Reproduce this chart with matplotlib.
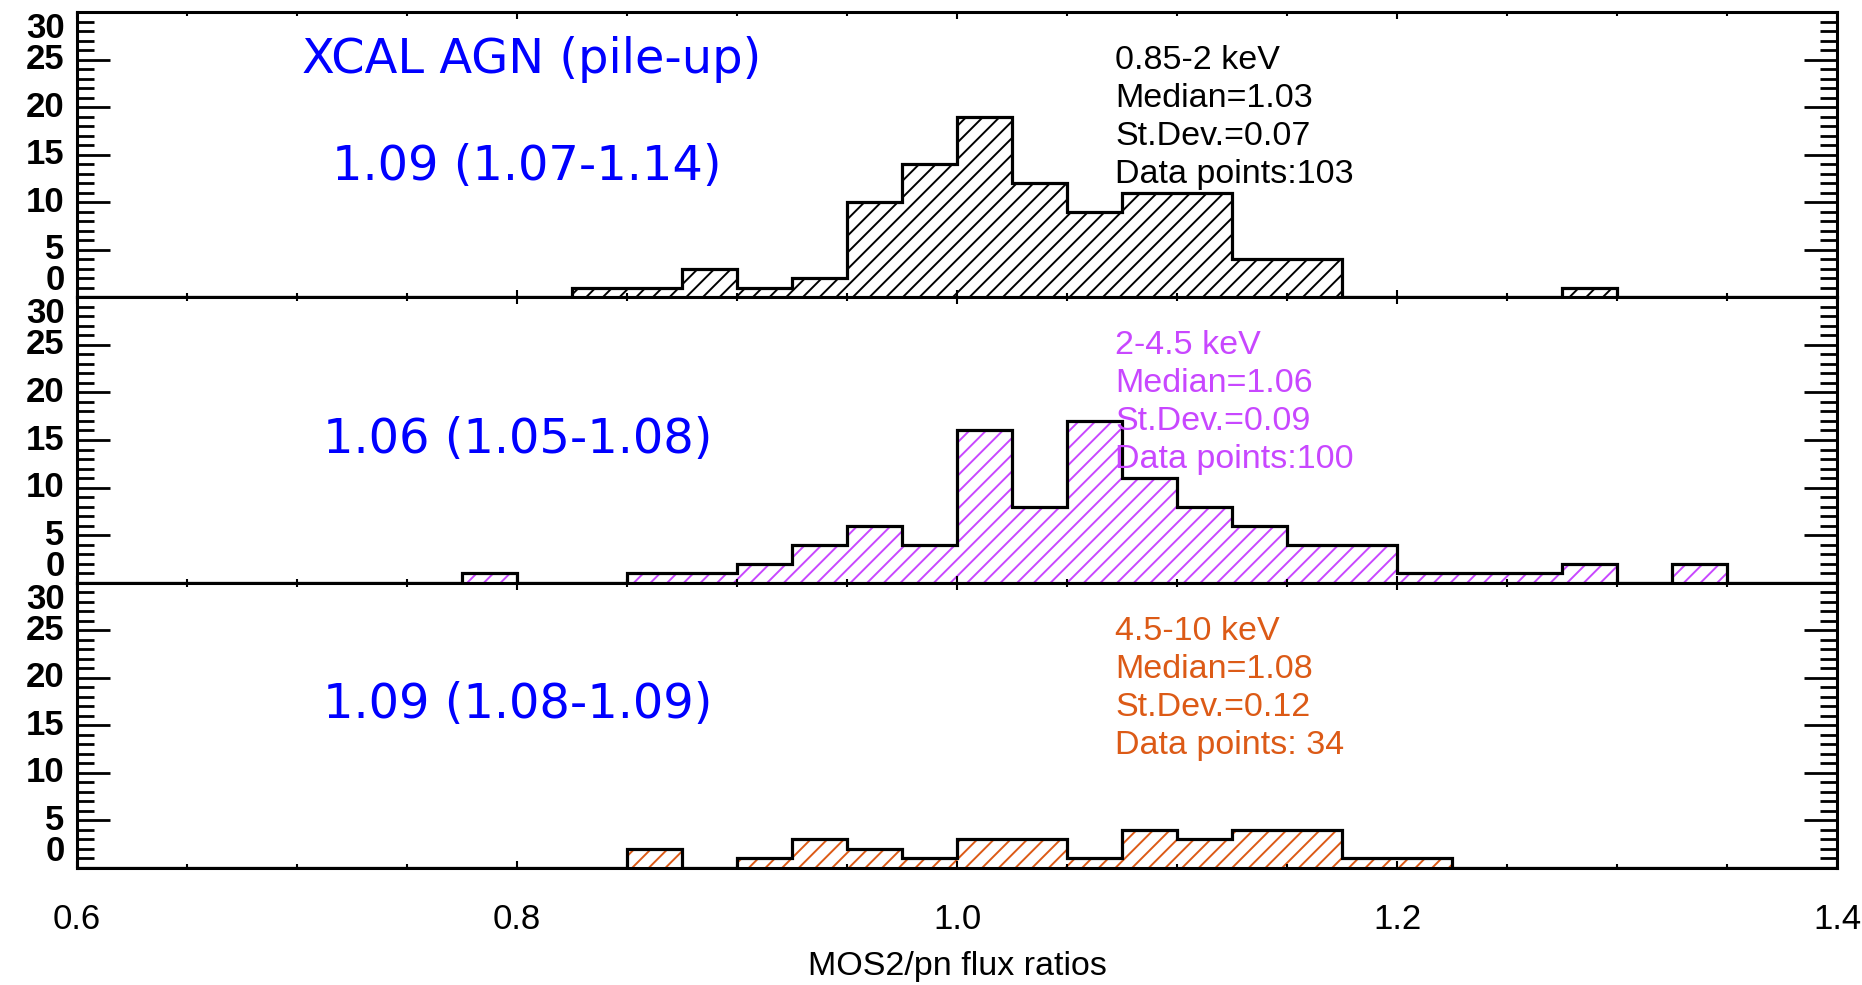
import numpy as np
import matplotlib
matplotlib.use('Agg')
import matplotlib.pyplot as plt
from matplotlib.ticker import MultipleLocator

plt.rcParams['font.family'] = ['Liberation Sans', 'DejaVu Sans']
plt.rcParams['hatch.linewidth'] = 1.4

# histogram bins, width 0.025 from 0.6 to 1.4
edges = np.round(np.arange(0.6, 1.4001, 0.025), 3)

# counts per bin for the three energy bands
counts_soft = [0, 0, 0, 0, 0, 0, 0, 0, 0, 1,
               1, 3, 1, 2, 10, 14, 19, 12, 9, 11,
               11, 4, 4, 0, 0, 0, 0, 1, 0, 0,
               0, 0]
counts_medium = [0, 0, 0, 0, 0, 0, 0, 1, 0, 0,
                 1, 1, 2, 4, 6, 4, 16, 8, 17, 11,
                 8, 6, 4, 4, 1, 1, 1, 2, 0, 2,
                 0, 0]
counts_hard = [0, 0, 0, 0, 0, 0, 0, 0, 0, 0,
               2, 0, 1, 3, 2, 1, 3, 3, 1, 4,
               3, 4, 4, 1, 1, 0, 0, 0, 0, 0,
               0, 0]

bands = ['0.85-2 keV', '2-4.5 keV', '4.5-10 keV']
medians = ['1.03', '1.06', '1.08']
stdevs = ['0.07', '0.09', '0.12']
npoints = ['103', '100', ' 34']
ratios = ['1.09 (1.07-1.14)', '1.06 (1.05-1.08)', '1.09 (1.08-1.09)']
colors = ['black', '#c847ff', '#dc5a16']

xticks = [0.6, 0.8, 1.0, 1.2, 1.4]
xticklabels = ['0.6', '0.8', '1.0', '1.2', '1.4']
yticks = [0, 5, 10, 15, 20, 25, 30]

W, H = 1862, 985
fig, axes = plt.subplots(3, 1, sharex=True, figsize=(W / 100, H / 100), dpi=100)
top_px, bot_px, left_px, right_px = 12, 868, 77, 1837
fig.subplots_adjust(left=left_px / W, right=right_px / W,
                    top=1 - top_px / H, bottom=1 - bot_px / H, hspace=0)
panel_h = (bot_px - top_px) / 3.0


def yfrac(off):
    # pixel offset below the panel top -> axes fraction
    return 1 - off / panel_h


all_counts = [counts_soft, counts_medium, counts_hard]
for i, ax in enumerate(axes):
    c = all_counts[i]
    ax.stairs(c, edges, fill=True, facecolor='none', edgecolor=colors[i],
              hatch='//', linewidth=0)
    ax.stairs(c, edges, color='black', linewidth=2.3)

    ax.set_xlim(0.6, 1.4)
    ax.set_ylim(0, 30)
    for s in ax.spines.values():
        s.set_linewidth(2.2)

    ax.set_yticks(yticks)
    ax.yaxis.set_minor_locator(MultipleLocator(1))
    ax.xaxis.set_minor_locator(MultipleLocator(0.05))
    ax.tick_params(axis='y', which='major', direction='in', length=24, width=2,
                   left=True, right=True, labelsize=25, pad=9)
    ax.tick_params(axis='y', which='minor', direction='in', length=12, width=2,
                   left=True, right=True)
    ax.tick_params(axis='x', which='major', direction='in', length=5, width=1.5,
                   top=True, bottom=True, labelsize=25, pad=25)
    ax.tick_params(axis='x', which='minor', direction='in', length=3, width=1.5,
                   top=True, bottom=True)
    # end labels pulled inside the panel, like the original
    for t, v in zip(ax.yaxis.get_major_ticks(), yticks):
        t.label1.set_fontweight('bold')
        if v == 0:
            t.label1.set_va('bottom')
        elif v == 30:
            t.label1.set_va('top')
        else:
            t.label1.set_va('center')

    lines = [bands[i], 'Median=' + medians[i], 'St.Dev.=' + stdevs[i],
             'Data points:' + npoints[i]]
    for j, txt in enumerate(lines):
        ax.text(0.590, yfrac(57 + 38 * j), txt, transform=ax.transAxes,
                color=colors[i], fontsize=24.5, va='baseline', ha='left')

ratio_x = [0.145, 0.140, 0.140]
ratio_off = [168, 156, 135]
for i, ax in enumerate(axes):
    ax.text(ratio_x[i], yfrac(ratio_off[i]), ratios[i], transform=ax.transAxes,
            color='blue', fontsize=34.5, family='DejaVu Sans', va='baseline')
axes[0].text(0.128, yfrac(61), 'XCAL AGN (pile-up)', transform=axes[0].transAxes,
             color='blue', fontsize=34.5, family='DejaVu Sans', va='baseline')

axes[2].set_xticks(xticks)
axes[2].set_xticklabels(xticklabels)
fig.text((left_px + right_px) / 2 / W, 1 - 966 / H, 'MOS2/pn flux ratios',
         ha='center', va='center', fontsize=24.5)

fig.savefig('out.png', dpi=100)
